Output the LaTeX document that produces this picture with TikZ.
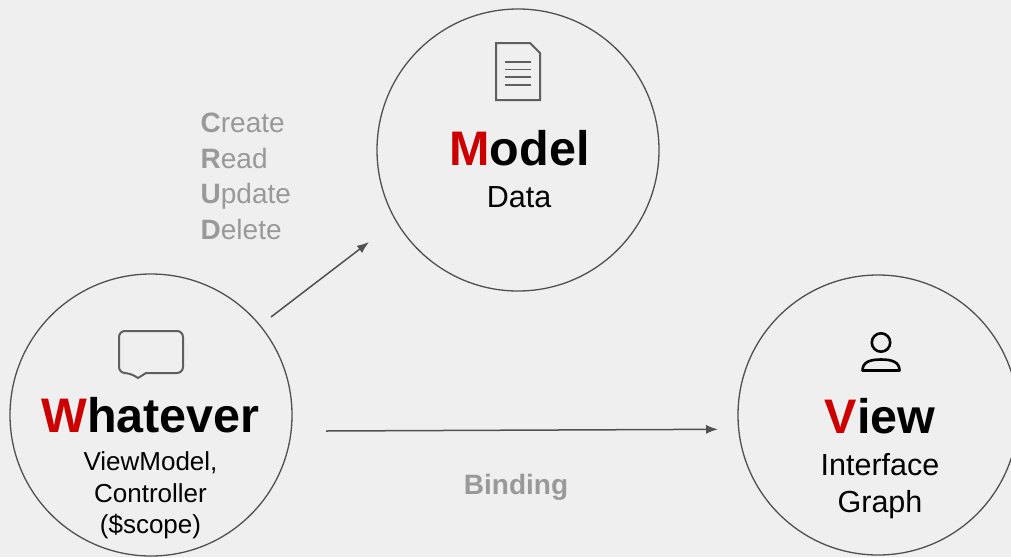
\documentclass[tikz,border=0pt]{standalone}
\usepackage{fontspec}
\setmainfont{Liberation Sans}
\usetikzlibrary{arrows.meta}
\definecolor{bgc}{HTML}{EFEFEF}
\definecolor{ringc}{HTML}{505050}
\definecolor{accent}{HTML}{CC0000}
\definecolor{crudc}{HTML}{999999}
\definecolor{iconc}{HTML}{5F5F5F}
\definecolor{arrowc}{HTML}{505050}
\begin{document}
\begin{tikzpicture}[x=1pt,y=-1pt,
  ringnode/.style={circle,draw=ringc,line width=1.3pt,minimum size=282pt,inner sep=0pt},
  titletxt/.style={anchor=base,inner sep=0pt,font=\fontsize{48.5}{58}\selectfont\bfseries},
  subtxt/.style={anchor=base,inner sep=0pt},
  crudtxt/.style={anchor=base west,inner sep=0pt,text=crudc,font=\fontsize{28}{34}\selectfont},
  linkarrow/.style={draw=arrowc,line width=1.5pt,-{Latex[length=12pt,width=9pt]}},
  iconline/.style={draw=iconc,line width=2pt}]
\fill[bgc] (0,0) rectangle (1011,557);
\useasboundingbox (0,0) rectangle (1011,557);

% circles
\node[ringnode] (model) at (518,150) {};
\node[ringnode] (whatever) at (151,415) {};
\node[ringnode,minimum size=280pt] (view) at (878,415) {};

% Model
\node[titletxt] (modelt) at (519.5,165) {\textcolor{accent}{M}odel};
\node[subtxt,font=\fontsize{30.5}{36}\selectfont] (data) at (519,207) {Data};
\draw[iconline,line join=miter] (496,43) -- (530,43) -- (540,53) -- (540,100) -- (496,100) -- cycle;
\foreach \yy in {62,69.5,77,84.7}
  \draw[draw=iconc,line width=1.6pt] (505,\yy) -- (531,\yy);

% Whatever
\node[titletxt] (whatevert) at (150.5,432) {\textcolor{accent}{W}hatever};
\node[subtxt,font=\fontsize{26}{31}\selectfont] (wl1) at (150.5,470) {ViewModel,};
\node[subtxt,font=\fontsize{26}{31}\selectfont] (wl2) at (150.5,502) {Controller};
\node[subtxt,font=\fontsize{26}{31}\selectfont] (wl3) at (150.5,533.5) {(\$scope)};
\draw[iconline,rounded corners=6pt] (146,373) -- (183,373) -- (183,331) -- (119,331) -- (119,373) -- (130,373) [sharp corners] -- (138,378) -- cycle;

% View
\node[titletxt] (viewt) at (880,433) {\textcolor{accent}{V}iew};
\node[subtxt,font=\fontsize{30.5}{36}\selectfont] (vl1) at (880,475) {Interface};
\node[subtxt,font=\fontsize{30.5}{36}\selectfont] (vl2) at (880,512.7) {Graph};
\draw[black,line width=2.6pt] (881,342.5) circle[radius=9.2];
\draw[black,line width=2.6pt,line join=round] (862.5,370.5) .. controls (862.5,362) and (870,359.5) .. (881,359.5) .. controls (892,359.5) and (899.5,362) .. (899.5,370.5) -- cycle;

% CRUD label
\node[crudtxt] (c1) at (200.5,132) {\textbf{C}reate};
\node[crudtxt] (c2) at (200.5,168) {\textbf{R}ead};
\node[crudtxt] (c3) at (200.5,203.5) {\textbf{U}pdate};
\node[crudtxt] (c4) at (200.5,239) {\textbf{D}elete};

% Binding label
\node[anchor=base,inner sep=0pt,text=crudc,font=\fontsize{28}{34}\selectfont\bfseries] (bind) at (516,494) {Binding};

% arrows
\coordinate (crudstart) at (271,317);
\coordinate (crudend) at (369,242);
\coordinate (bindstart) at (326,431);
\coordinate (bindend) at (718,429.3);
\draw[linkarrow] (crudstart) -- (crudend);
\draw[linkarrow] (bindstart) -- (bindend);
\end{tikzpicture}
\end{document}
